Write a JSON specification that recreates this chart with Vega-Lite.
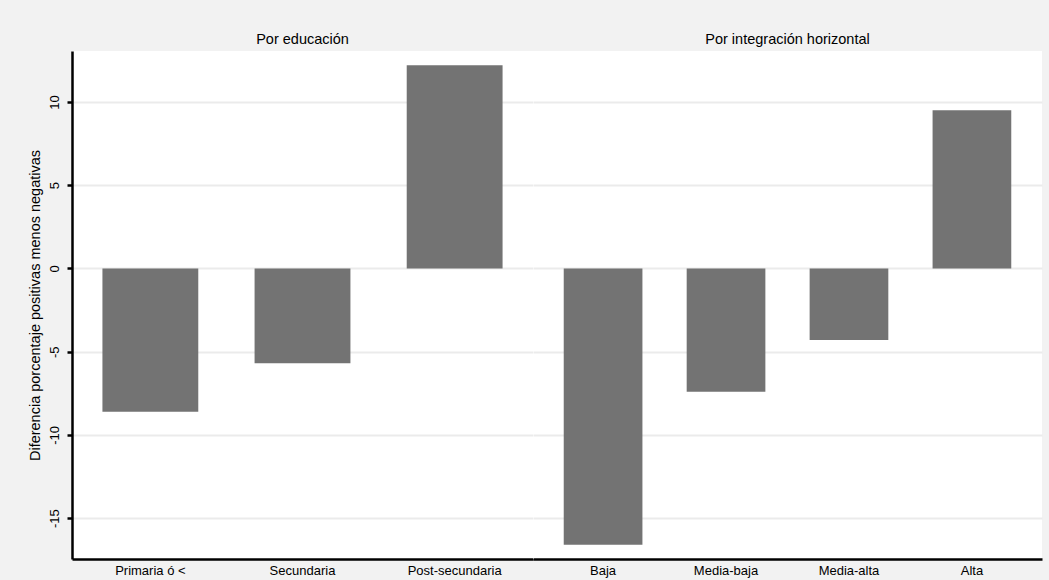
{
  "$schema": "https://vega.github.io/schema/vega-lite/v6.json",
  "autosize": {"type": "pad"},
  "padding": {"left": 27, "top": 31, "right": 7, "bottom": 3},
  "background": "#f2f2f2",
  "datasets": {
    "bars": [
      {"grupo": "educ", "categoria": "Primaria ó <", "valor": -8.6},
      {"grupo": "educ", "categoria": "Secundaria", "valor": -5.7},
      {"grupo": "educ", "categoria": "Post-secundaria", "valor": 12.2},
      {"grupo": "integ", "categoria": "Baja", "valor": -16.6},
      {"grupo": "integ", "categoria": "Media-baja", "valor": -7.4},
      {"grupo": "integ", "categoria": "Media-alta", "valor": -4.3},
      {"grupo": "integ", "categoria": "Alta", "valor": 9.5}
    ]
  },
  "spacing": 0,
  "hconcat": [
    {
      "width": 461,
      "height": 508,
      "title": {"text": "Por educación", "offset": 4},
      "data": {"name": "bars"},
      "transform": [{"filter": "datum.grupo === 'educ'"}],
      "mark": {"type": "bar", "color": "#737373"},
      "encoding": {
        "x": {
          "field": "categoria", "type": "nominal", "sort": null,
          "scale": {"paddingInner": 0.37, "paddingOuter": 0.2},
          "axis": {"title": null, "labelAngle": 0, "ticks": false, "labelPadding": 5}
        },
        "y": {
          "field": "valor", "type": "quantitative",
          "scale": {"domain": [-17.45, 13.06], "nice": false, "zero": false},
          "axis": {
            "title": "Diferencia porcentaje positivas menos negativas",
            "values": [-15, -10, -5, 0, 5, 10],
            "labelExpr": "'' + datum.value",
            "labelAngle": -90, "labelAlign": "center", "labelBaseline": "bottom",
            "labelPadding": 6, "titlePadding": 6, "titleFontSize": 14.5
          }
        }
      }
    },
    {
      "width": 509,
      "height": 508,
      "title": {"text": "Por integración horizontal", "offset": 4},
      "data": {"name": "bars"},
      "transform": [{"filter": "datum.grupo === 'integ'"}],
      "mark": {"type": "bar", "color": "#737373"},
      "encoding": {
        "x": {
          "field": "categoria", "type": "nominal", "sort": null,
          "scale": {"paddingInner": 0.36, "paddingOuter": 0.25},
          "axis": {"title": null, "labelAngle": 0, "ticks": false, "labelPadding": 5}
        },
        "y": {
          "field": "valor", "type": "quantitative",
          "scale": {"domain": [-17.45, 13.06], "nice": false, "zero": false},
          "axis": {
            "title": null, "values": [-15, -10, -5, 0, 5, 10],
            "labels": false, "ticks": false, "domain": false
          }
        }
      }
    }
  ],
  "resolve": {"scale": {"y": "independent", "x": "independent"}},
  "config": {
    "font": "Liberation Sans",
    "view": {"stroke": null, "fill": "white"},
    "title": {"fontSize": 14.5, "fontWeight": "normal", "color": "black", "font": "Liberation Sans"},
    "axis": {
      "labelFont": "Liberation Sans", "labelFontSize": 13, "labelColor": "black",
      "titleFont": "Liberation Sans", "titleFontSize": 13, "titleFontWeight": "normal", "titleColor": "black",
      "domainColor": "black", "domainWidth": 2.5,
      "tickColor": "black", "tickWidth": 2.5, "tickSize": 5,
      "gridColor": "#ebebeb", "gridWidth": 2
    },
    "axisX": {"grid": false},
    "axisY": {"grid": true}
  }
}
